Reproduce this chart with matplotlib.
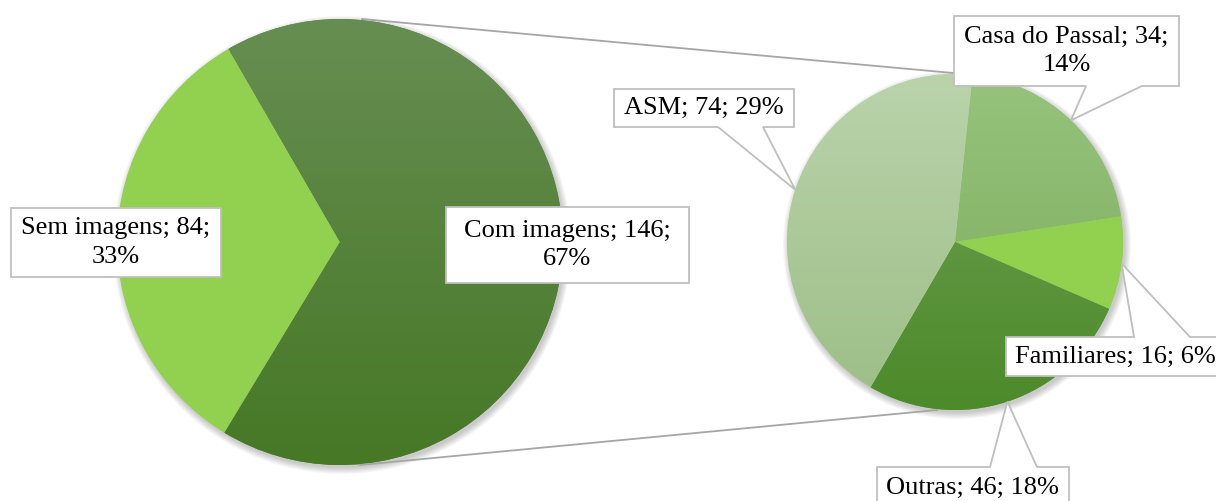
import matplotlib
matplotlib.use("Agg")
from matplotlib import pyplot as plt
from matplotlib.patches import Polygon, Circle
import numpy as np

# chart values
main_labels = ["Sem imagens", "Com imagens"]
main_counts = [84, 146]
main_pct = [33, 67]

sub_labels = ["Casa do Passal", "Familiares", "Outras", "ASM"]
sub_counts = [34, 16, 46, 74]
sub_pct = [14, 6, 18, 29]

W, H = 1216, 501
plt.rcParams['font.family'] = ['Liberation Serif', 'DejaVu Serif']


def py(y):
    # pixel row (top down) -> data y
    return H - y


def hexrgb(c):
    return np.array(matplotlib.colors.to_rgb(c))


def shade(ax, center, r):
    # soft drop shadow under a pie
    cx, cy = center
    for k in range(7):
        ax.add_patch(Circle((cx + 2, cy - 3), r + 6 - k, color='black',
                            alpha=0.03, lw=0, zorder=1))


def gradient_fill(ax, wedge, center, r, top, bottom):
    cx, cy = center
    t = np.linspace(0, 1, 256)[:, None, None]
    img = hexrgb(top)[None, None, :] * (1 - t) + hexrgb(bottom)[None, None, :] * t
    im = ax.imshow(img, extent=(cx - r, cx + r, cy - r, cy + r), origin='upper',
                   aspect='auto', interpolation='bilinear', zorder=3)
    im.set_clip_path(wedge)


def callout(ax, box, text, tip=None, side='bottom', base=None, align='center', tx=None):
    x0, y0, x1, y1 = box
    if tip is None:
        pts = [(x0, y0), (x1, y0), (x1, y1), (x0, y1)]
    elif side == 'bottom':
        xa, xb = base
        pts = [(x0, y0), (x1, y0), (x1, y1), (xb, y1), tip, (xa, y1), (x0, y1)]
    else:
        xa, xb = base
        pts = [(x0, y0), (xa, y0), tip, (xb, y0), (x1, y0), (x1, y1), (x0, y1)]
    pts = [(x, py(y)) for x, y in pts]
    ax.add_patch(Polygon(pts, closed=True, facecolor='white', edgecolor='#BFBFBF',
                         lw=1.3, zorder=6, joinstyle='miter'))
    if tx is None:
        tx = (x0 + x1) / 2
    ax.text(tx, py((y0 + y1) / 2), text, ha=align, va='center', fontsize=19,
            linespacing=1.38, color='black', zorder=7)


fig = plt.figure(figsize=(W / 100, H / 100), dpi=100)
ax = fig.add_axes([0, 0, 1, 1])

# main pie
c1, r1 = (340, py(242)), 223
shade(ax, c1, r1)
w1, _ = ax.pie(main_pct, center=c1, radius=r1, startangle=120, counterclock=True,
               colors=['#92D050', '#5A8540'], wedgeprops=dict(linewidth=0, zorder=2))
gradient_fill(ax, w1[1], c1, r1, '#678E52', '#467826')

# second pie
c2, r2 = (955, py(242)), 168
shade(ax, c2, r2)
sub_cols = [('#97C37C', '#78AB59'), ('#92D050', '#92D050'),
            ('#72A256', '#4C8A2A'), ('#BAD3AB', '#9CBE86')]
w2, _ = ax.pie(sub_pct, center=c2, radius=r2, startangle=84, counterclock=False,
               colors=[c[0] for c in sub_cols], wedgeprops=dict(linewidth=0, zorder=2))
for w, (ctop, cbot) in zip(w2, sub_cols):
    gradient_fill(ax, w, c2, r2, ctop, cbot)

# connector lines
ax.plot([362, 953], [py(19), py(73)], color='#A6A6A6', lw=1.3, zorder=4)
ax.plot([360, 937], [py(465), py(410)], color='#A6A6A6', lw=1.3, zorder=4)


def edge_point(w, center, r):
    a = np.deg2rad((w.theta1 + w.theta2) / 2)
    return center[0] + r * np.cos(a), H - (center[1] + r * np.sin(a))


# labels on main pie
callout(ax, (11, 208, 221, 277),
        f"{main_labels[0]}; {main_counts[0]};\n{main_pct[0]}%")
callout(ax, (446, 207, 689, 283),
        f"{main_labels[1]}; {main_counts[1]};\n{main_pct[1]}%")

# labels on second pie
tips = [edge_point(w, c2, r2) for w in w2]
callout(ax, (954, 16, 1179, 86), f"{sub_labels[0]}; {sub_counts[0]};\n{sub_pct[0]}%",
        tip=tips[0], side='bottom', base=(1086, 1142))
callout(ax, (1006, 337, 1226, 376), f"{sub_labels[1]}; {sub_counts[1]}; {sub_pct[1]}%",
        tip=tips[1], side='top', base=(1134, 1190), align='left', tx=1015)
callout(ax, (877, 467, 1069, 508), f"{sub_labels[2]}; {sub_counts[2]}; {sub_pct[2]}%",
        tip=tips[2], side='top', base=(990, 1037), align='left', tx=886)
callout(ax, (614, 89, 794, 127), f"{sub_labels[3]}; {sub_counts[3]}; {sub_pct[3]}%",
        tip=tips[3], side='bottom', base=(718, 763))

ax.set_xlim(0, W)
ax.set_ylim(0, H)
ax.set_aspect('auto')
ax.axis('off')

fig.savefig("out.png", dpi=100, facecolor='white')
